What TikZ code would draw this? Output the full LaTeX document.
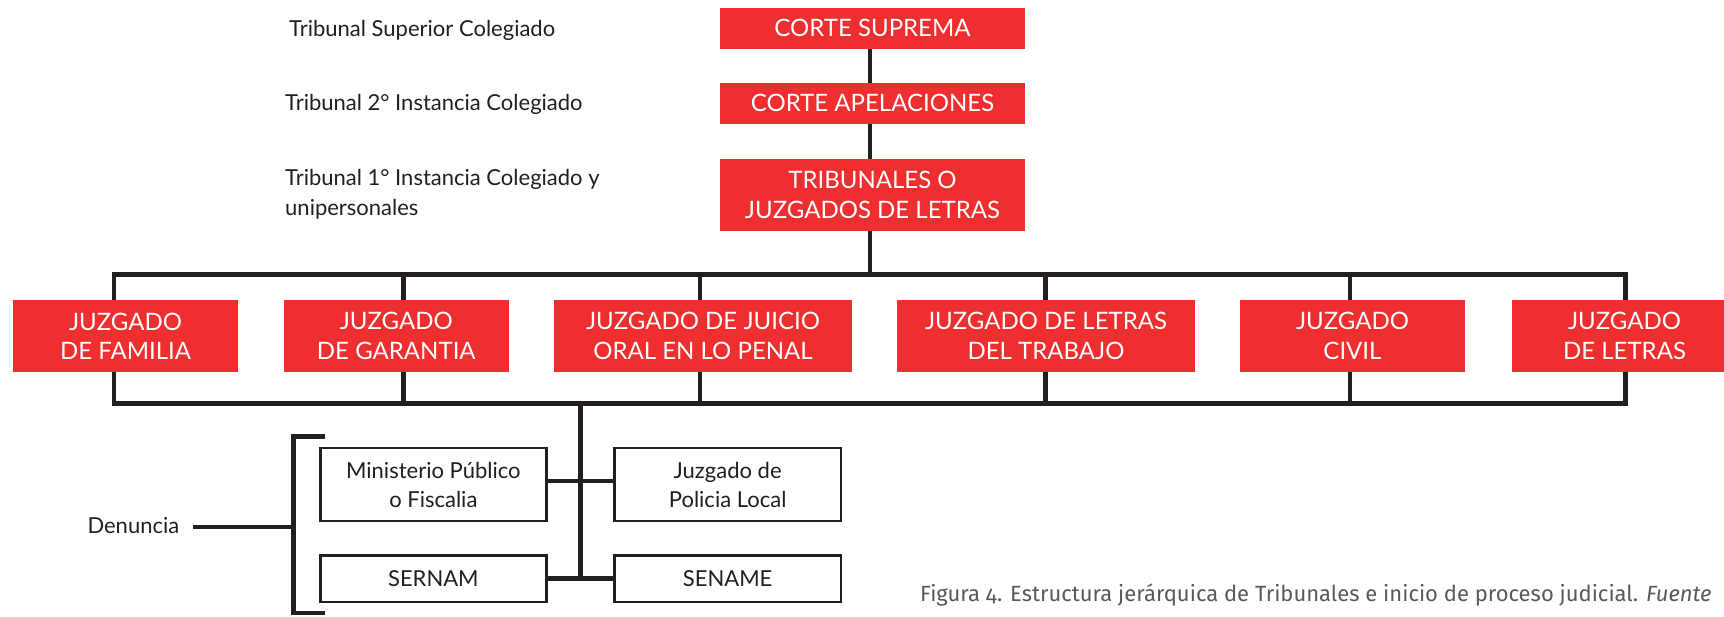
\documentclass[tikz,border=0pt]{standalone}
\usepackage{fontspec}
\setmainfont{Lato}
\newfontfamily\capfont[Numbers=OldStyle]{Fira Sans}
\definecolor{jred}{RGB}{238,46,47}
\definecolor{jline}{RGB}{35,31,32}
\definecolor{capgray}{RGB}{88,89,91}
\pgfdeclarelayer{background}
\pgfsetlayers{background,main}
\begin{document}
\begin{tikzpicture}[x=1pt,y=-1pt,
  redbox/.style={fill=jred, text=white, inner sep=0pt, align=center,
    font=\fontsize{24}{29.3}\selectfont},
  whitebox/.style={draw=jline, line width=2.5pt, fill=white, inner sep=0pt,
    align=center, text=jline, font=\fontsize{22}{29}\selectfont},
  bus/.style={draw=jline, line width=4.7pt},
  lbl/.style={anchor=base west, inner sep=0pt, text=jline, align=left,
    font=\fontsize{22}{29.3}\selectfont}]
\useasboundingbox (0,0) rectangle (1724,616);
% top chain
\node[redbox, minimum width=305, minimum height=40.7] (cs) at (872.5,28.35) {CORTE SUPREMA};
\node[redbox, minimum width=305, minimum height=40.7] (ca) at (872.5,103.35) {CORTE APELACIONES};
\node[redbox, minimum width=305, minimum height=71.4] (tj) at (872.5,195) {TRIBUNALES O\\JUZGADOS DE LETRAS};
% labels
\node[lbl] (l1) at (289,36.7) {Tribunal Superior Colegiado};
\node[lbl] (l2) at (285,110) {Tribunal 2° Instancia Colegiado};
\node[lbl] (l3) at (285,215) {Tribunal 1° Instancia Colegiado y\\unipersonales};
% juzgados
\node[redbox, minimum width=225, minimum height=72] (j1) at (125.5,336) {JUZGADO\\DE FAMILIA};
\node[redbox, minimum width=224.6, minimum height=72] (j2) at (396.3,336) {JUZGADO\\DE GARANTIA};
\node[redbox, minimum width=298, minimum height=72] (j3) at (703,336) {JUZGADO DE JUICIO\\ORAL EN LO PENAL};
\node[redbox, minimum width=298, minimum height=72] (j4) at (1046,336) {JUZGADO DE LETRAS\\DEL TRABAJO};
\node[redbox, minimum width=225, minimum height=72] (j5) at (1352.5,336) {JUZGADO\\CIVIL};
\node[redbox, minimum width=225, minimum height=72] (j6) at (1624.5,336) {JUZGADO\\DE LETRAS};
% lower boxes
\node[whitebox, minimum width=226.2, minimum height=73.1] (mp) at (433.35,484.5) {Ministerio Público\\o Fiscalia};
\node[whitebox, minimum width=226.2, minimum height=73.1] (pl) at (727.65,484.5) {Juzgado de\\Policia Local};
\node[whitebox, minimum width=226.2, minimum height=46.5] (sn) at (433.35,578.8) {SERNAM};
\node[whitebox, minimum width=226.2, minimum height=46.5] (se) at (727.65,578.8) {SENAME};
% denuncia
\node[lbl] (den) at (87.3,533.3) {Denuncia};
% caption
\node[anchor=base west, inner sep=0pt, text=capgray, font=\capfont\fontsize{22}{26}\selectfont] (cap) at (920,601)
  {Figura 4. Estructura jerárquica de Tribunales e inicio de proceso judicial. \textit{Fuente}};
% coordinates
\coordinate (tx) at (870,0);
\coordinate (btl) at (114,274.5);
\coordinate (bbr) at (1625.3,403.5);
\coordinate (d2) at (403.4,0);
\coordinate (d3) at (700,0);
\coordinate (d4) at (1045.7,0);
\coordinate (d5) at (1350,0);
\coordinate (bx) at (580.3,403.5);
\coordinate (up) at (580.3,481);
\coordinate (lo) at (580.3,578.3);
\coordinate (brt) at (325,436.5);
\coordinate (brtl) at (293.3,436.5);
\coordinate (brbl) at (293.3,613);
\coordinate (brb) at (325,613);
\coordinate (brm) at (293.3,527);
\coordinate (dens) at (193.3,527);
\begin{pgfonlayer}{background}
\draw[bus] (cs.south -| tx) -- (tj.north -| tx);
\draw[bus] (tj.south -| tx) -- (btl -| tx);
\draw[bus] (btl) rectangle (bbr);
\foreach \d in {d2,d3,d4,d5} \draw[bus] (btl -| \d) -- (bbr -| \d);
\draw[bus] (bx) -- (lo);
\draw[bus] (mp.east |- up) -- (pl.west |- up);
\draw[bus] (sn.east |- lo) -- (se.west |- lo);
\draw[bus] (brt) -- (brtl) -- (brbl) -- (brb);
\draw[bus] (dens) -- (brm);
\end{pgfonlayer}
\end{tikzpicture}
\end{document}
